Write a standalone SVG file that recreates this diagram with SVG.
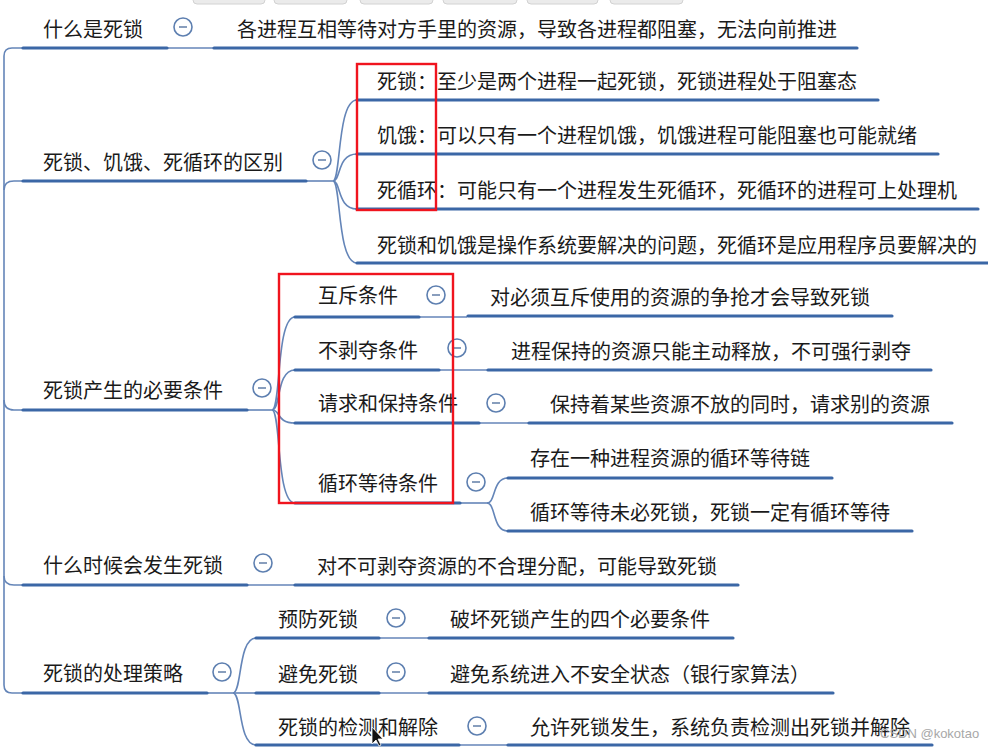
<svg xmlns="http://www.w3.org/2000/svg" width="988" height="747" viewBox="0 0 988 747">
<style>
text{font-family:"Noto Sans CJK SC","Noto Sans",sans-serif;font-size:20px;fill:#1a1a1a}
.ul{stroke:#3b67a6;stroke-width:3.2;stroke-linecap:round;fill:none}
.cn{stroke:#6485b8;stroke-width:1.6;fill:none}
.tog circle{fill:#fff;stroke:#5d7fb0;stroke-width:1.6}
.tog line{stroke:#6b86ad;stroke-width:1.6}
.red{fill:none;stroke:#f0141e;stroke-width:2.4}
.tab{fill:#ebebeb;stroke:#d2d2d2;stroke-width:1}
.wm{font-family:"Liberation Sans",sans-serif;font-size:13px;fill:#a8a8a8}
</style>
<defs>
<g id="tg" class="tog"><circle r="9"/><line x1="-4" y1="0" x2="4" y2="0"/></g>
</defs>
<rect width="988" height="747" fill="#fff"/>
<g id="tabs">
<rect class="tab" x="193" y="-6" width="72" height="10" rx="4"/>
<rect class="tab" x="274" y="-6" width="73" height="10" rx="4"/>
<rect class="tab" x="360" y="-6" width="73" height="10" rx="4"/>
<rect class="tab" x="443" y="-6" width="74" height="10" rx="4"/>
<rect class="tab" x="527" y="-6" width="71" height="10" rx="4"/>
<rect class="tab" x="610" y="-6" width="73" height="10" rx="4"/>
</g>
<g id="connectors">
<path class="cn" d="M22,48 H12 Q4,48 4,56 V685 Q4,693 12,693 H22"/>
<path class="cn" d="M4,190 Q4,181 14,181 H22"/>
<path class="cn" d="M4,400 Q4,410 14,410 H22"/>
<path class="cn" d="M4,576 Q4,585 14,585 H22"/>
<path class="cn" d="M167,48 H213"/>
<path class="cn" d="M306,181 H333"/>
<path class="cn" d="M333,181 C341,181 337,100 357,100"/>
<path class="cn" d="M333,181 C341,181 337,154 357,154"/>
<path class="cn" d="M333,181 C341,181 337,209 357,209"/>
<path class="cn" d="M333,181 C341,181 337,263 357,263"/>
<path class="cn" d="M247,410 H272"/>
<path class="cn" d="M272,410 C281,410 276,317 295,317"/>
<path class="cn" d="M272,410 C281,410 276,370 295,370"/>
<path class="cn" d="M272,410 C281,410 276,423 295,423"/>
<path class="cn" d="M272,410 C281,410 276,503 295,503"/>
<path class="cn" d="M419,317 H467"/>
<path class="cn" d="M439,370 H487"/>
<path class="cn" d="M479,423 H528"/>
<path class="cn" d="M460,503 H487"/>
<path class="cn" d="M487,503 C496,503 492,478 508,478"/>
<path class="cn" d="M487,503 C496,503 492,531 508,531"/>
<path class="cn" d="M247,585 H294"/>
<path class="cn" d="M207,693 H233"/>
<path class="cn" d="M233,693 C242,693 238,638 256,638"/>
<path class="cn" d="M233,693 H256"/>
<path class="cn" d="M233,693 C242,693 238,745 256,745"/>
<path class="cn" d="M379,638 H428"/>
<path class="cn" d="M379,693 H428"/>
<path class="cn" d="M459,745 H507"/>
</g>
<g id="n1">
<path class="ul" d="M23,48 H167"/>
<text x="43" y="37">什么是死锁</text>
<use href="#tg" x="183" y="27"/>
</g>
<g id="n1a">
<path class="ul" d="M214,48 H857"/>
<text x="237" y="37">各进程互相等待对方手里的资源，导致各进程都阻塞，无法向前推进</text>
</g>
<g id="n2">
<path class="ul" d="M23,181 H306"/>
<text x="43" y="170">死锁、饥饿、死循环的区别</text>
<use href="#tg" x="322" y="160"/>
</g>
<g id="n2a">
<path class="ul" d="M357,100 H878"/>
<text x="377" y="89">死锁：至少是两个进程一起死锁，死锁进程处于阻塞态</text>
</g>
<g id="n2b">
<path class="ul" d="M357,154 H938"/>
<text x="377" y="143">饥饿：可以只有一个进程饥饿，饥饿进程可能阻塞也可能就绪</text>
</g>
<g id="n2c">
<path class="ul" d="M357,209 H978"/>
<text x="377" y="198">死循环：可能只有一个进程发生死循环，死循环的进程可上处理机</text>
</g>
<g id="n2d">
<path class="ul" d="M357,263 H990"/>
<text x="377" y="253">死锁和饥饿是操作系统要解决的问题，死循环是应用程序员要解决的</text>
</g>
<g id="n3">
<path class="ul" d="M23,410 H247"/>
<text x="43" y="398">死锁产生的必要条件</text>
<use href="#tg" x="262" y="388"/>
</g>
<g id="n3a">
<path class="ul" d="M295,317 H419"/>
<text x="318" y="303">互斥条件</text>
<use href="#tg" x="436" y="295"/>
</g>
<g id="n3a1">
<path class="ul" d="M468,316 H892"/>
<text x="490" y="305">对必须互斥使用的资源的争抢才会导致死锁</text>
</g>
<g id="n3b">
<path class="ul" d="M295,370 H439"/>
<text x="318" y="358">不剥夺条件</text>
<use href="#tg" x="457" y="348"/>
</g>
<g id="n3b1">
<path class="ul" d="M488,370 H931"/>
<text x="511" y="359">进程保持的资源只能主动释放，不可强行剥夺</text>
</g>
<g id="n3c">
<path class="ul" d="M295,423 H479"/>
<text x="318" y="411">请求和保持条件</text>
<use href="#tg" x="496" y="403"/>
</g>
<g id="n3c1">
<path class="ul" d="M529,423 H952"/>
<text x="550" y="412">保持着某些资源不放的同时，请求别的资源</text>
</g>
<g id="n3d">
<path class="ul" d="M295,503 H460"/>
<text x="318" y="491">循环等待条件</text>
<use href="#tg" x="476" y="482"/>
</g>
<g id="n3d1">
<path class="ul" d="M508,478 H832"/>
<text x="530" y="466">存在一种进程资源的循环等待链</text>
</g>
<g id="n3d2">
<path class="ul" d="M508,531 H912"/>
<text x="530" y="520">循环等待未必死锁，死锁一定有循环等待</text>
</g>
<g id="n4">
<path class="ul" d="M23,585 H247"/>
<text x="43" y="573">什么时候会发生死锁</text>
<use href="#tg" x="263" y="563"/>
</g>
<g id="n4a">
<path class="ul" d="M295,585 H738"/>
<text x="317" y="574">对不可剥夺资源的不合理分配，可能导致死锁</text>
</g>
<g id="n5">
<path class="ul" d="M23,693 H207"/>
<text x="43" y="681">死锁的处理策略</text>
<use href="#tg" x="222" y="672"/>
</g>
<g id="n5a">
<path class="ul" d="M256,638 H379"/>
<text x="278" y="627">预防死锁</text>
<use href="#tg" x="396" y="618"/>
</g>
<g id="n5a1">
<path class="ul" d="M429,638 H733"/>
<text x="450" y="627">破坏死锁产生的四个必要条件</text>
</g>
<g id="n5b">
<path class="ul" d="M256,693 H379"/>
<text x="278" y="682">避免死锁</text>
<use href="#tg" x="396" y="672"/>
</g>
<g id="n5b1">
<path class="ul" d="M429,693 H833"/>
<text x="450" y="682">避免系统进入不安全状态（银行家算法）</text>
</g>
<g id="n5c">
<path class="ul" d="M256,745 H459"/>
<text x="278" y="735">死锁的检测和解除</text>
<use href="#tg" x="477" y="726"/>
</g>
<g id="n5c1">
<path class="ul" d="M508,745 H932"/>
<text x="530" y="735">允许死锁发生，系统负责检测出死锁并解除</text>
</g>
<rect class="red" x="357" y="64" width="79" height="146"/>
<rect class="red" x="279" y="274" width="174" height="229"/>
<path d="M372,727 L372,744 L376,740 L379,746 L381,745 L378,739 L383,739 Z" fill="#111" stroke="#fff" stroke-width="0.8"/>
<text class="wm" x="880" y="738">CSDN @kokotao</text>
</svg>
